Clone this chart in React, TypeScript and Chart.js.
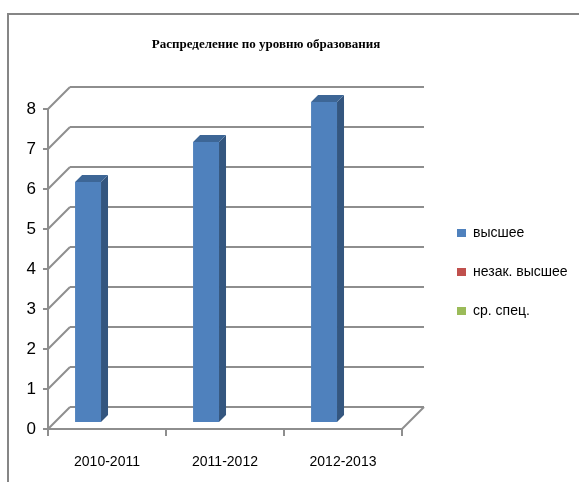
import React, { useEffect, useRef } from "react";
import { Chart, registerables } from "chart.js";

Chart.register(...registerables);

const categories = ["2010-2011", "2011-2012", "2012-2013"];
const seriesNames = ["высшее", "незак. высшее", "ср. спец."];
const vysshee = [6, 7, 8];
const nezakVysshee = [0, 0, 0];
const srSpec = [0, 0, 0];
const seriesColors = ["#4F81BD", "#C0504D", "#9BBB59"];
const sideColors = ["#34567F", "#8A3A37", "#6F8740"];
const topColors = ["#3D6696", "#9A403D", "#7C9648"];
const yMin = 0;
const yMax = 8;
const yStep = 1;

const FRONT = 7; // offset from bar plane to front plane
const BACK = 15; // offset from bar plane to back wall
const BAR_DEPTH = 7;
const GRID = "#8E8E8E";
const TITLE_SPAN = 532; // horizontal span over which the title is centred

function line(ctx: CanvasRenderingContext2D, x1: number, y1: number, x2: number, y2: number) {
  ctx.beginPath();
  ctx.moveTo(x1, y1);
  ctx.lineTo(x2, y2);
  ctx.stroke();
}

const threeD = {
  id: "threeD",
  afterLayout(chart: any) {
    const t = chart.titleBlock;
    if (t) {
      t.left = 0;
      t.right = TITLE_SPAN;
      t.width = TITLE_SPAN;
    }
    const lg = chart.legend;
    if (lg) {
      lg.right = chart.width;
      lg.width = lg.right - lg.left;
    }
  },
  beforeDraw(chart: any) {
    const ctx = chart.ctx as CanvasRenderingContext2D;
    ctx.save();
    ctx.fillStyle = "#ffffff";
    ctx.fillRect(0, 0, chart.width, chart.height);
    ctx.strokeStyle = "#868686";
    ctx.lineWidth = 2;
    ctx.beginPath();
    ctx.moveTo(8, chart.height + 5);
    ctx.lineTo(8, 14);
    ctx.lineTo(chart.width + 5, 14);
    ctx.stroke();
    ctx.restore();
  },
  beforeDatasetsDraw(chart: any) {
    const ctx = chart.ctx as CanvasRenderingContext2D;
    const { left, right } = chart.chartArea;
    const y = chart.scales.y;
    const x = chart.scales.x;
    ctx.save();
    ctx.strokeStyle = GRID;
    ctx.lineWidth = 2;
    const y0 = y.getPixelForValue(yMin);
    const yTop = y.getPixelForValue(yMax);
    y.ticks.forEach((t: any) => {
      const py = y.getPixelForValue(t.value);
      line(ctx, left - FRONT, py + FRONT, left + BACK, py - BACK);
      line(ctx, left + BACK, py - BACK, right + BACK, py - BACK);
      line(ctx, left - FRONT - 5, py + FRONT, left - FRONT, py + FRONT);
    });
    // front vertical axis
    line(ctx, left - FRONT, y0 + FRONT, left - FRONT, yTop + FRONT);
    // floor
    line(ctx, left - FRONT, y0 + FRONT, right - FRONT, y0 + FRONT);
    line(ctx, right - FRONT, y0 + FRONT, right + BACK, y0 - BACK);
    // category boundary ticks
    const n = categories.length;
    for (let i = 0; i <= n; i++) {
      const xb = x.left + (i * (x.right - x.left)) / n - FRONT;
      line(ctx, xb, y0 + FRONT, xb, y0 + FRONT + 7);
    }
    ctx.restore();
  },
  afterDatasetsDraw(chart: any) {
    const ctx = chart.ctx as CanvasRenderingContext2D;
    ctx.save();
    chart.data.datasets.forEach((ds: any, di: number) => {
      const meta = chart.getDatasetMeta(di);
      meta.data.forEach((el: any) => {
        const { x, y, base, width } = el.getProps(["x", "y", "base", "width"], true);
        if (Math.abs(base - y) < 0.5) return;
        const l = x - width / 2;
        const r = x + width / 2;
        const d = BAR_DEPTH;
        ctx.fillStyle = sideColors[di];
        ctx.beginPath();
        ctx.moveTo(r, y);
        ctx.lineTo(r + d, y - d);
        ctx.lineTo(r + d, base - d);
        ctx.lineTo(r, base);
        ctx.closePath();
        ctx.fill();
        ctx.fillStyle = topColors[di];
        ctx.beginPath();
        ctx.moveTo(l, y);
        ctx.lineTo(l + d, y - d);
        ctx.lineTo(r + d, y - d);
        ctx.lineTo(r, y);
        ctx.closePath();
        ctx.fill();
      });
    });
    ctx.restore();
  },
};

export default function App() {
  const canvasRef = useRef<HTMLCanvasElement | null>(null);

  useEffect(() => {
    if (!canvasRef.current) return;
    const seriesData = [vysshee, nezakVysshee, srSpec];
    const chart = new Chart(canvasRef.current, {
      type: "bar",
      data: {
        labels: categories,
        datasets: seriesNames.map((name, i) => ({
          label: name,
          data: seriesData[i],
          backgroundColor: seriesColors[i],
          borderWidth: 0,
          barPercentage: 1,
          categoryPercentage: 0.66,
        })),
      },
      options: {
        animation: false,
        responsive: false,
        maintainAspectRatio: false,
        layout: { padding: { top: 14, right: 67, left: 0, bottom: 0 } },
        plugins: {
          title: {
            display: true,
            text: "Распределение по уровню образования",
            color: "#000000",
            font: { family: "'Liberation Serif', 'Times New Roman', serif", size: 13, weight: "bold" },
            padding: { top: 23, bottom: 49.4 },
          },
          legend: {
            display: true,
            position: "right",
            fullSize: false,
            maxWidth: 80,
            align: "center",
            title: { display: true, text: "", font: { size: 10 }, padding: 4 },
            labels: {
              boxWidth: 9,
              boxHeight: 8,
              padding: 25,
              color: "#000000",
              font: { family: "'Liberation Sans', Arial, sans-serif", size: 14 },
            },
          },
          tooltip: { enabled: false },
        },
        scales: {
          x: {
            grid: { display: false, drawTicks: false },
            border: { display: false },
            ticks: {
              color: "#000000",
              padding: 32,
              labelOffset: -FRONT,
              font: { family: "'Liberation Sans', Arial, sans-serif", size: 14 },
            },
            afterFit: (s: any) => {
              s.height = 60;
            },
          },
          y: {
            min: yMin,
            max: yMax,
            grid: { display: false, drawTicks: false },
            border: { display: false },
            ticks: {
              stepSize: yStep,
              color: "#000000",
              padding: 19,
              labelOffset: FRONT,
              font: { family: "'Liberation Sans', Arial, sans-serif", size: 17 },
            },
            afterFit: (s: any) => {
              s.width = 55;
            },
          },
          y2: {
            position: "right",
            display: true,
            grid: { display: false, drawTicks: false },
            border: { display: false },
            ticks: { display: false },
            afterFit: (s: any) => {
              s.width = 23;
            },
          },
        },
      },
      plugins: [threeD],
    } as any);
    return () => chart.destroy();
  }, []);

  return (
    <div style={{ position: "absolute", left: 0, top: 0, width: 579, height: 482 }}>
      <canvas ref={canvasRef} width={579} height={482} style={{ width: 579, height: 482 }} />
    </div>
  );
}
